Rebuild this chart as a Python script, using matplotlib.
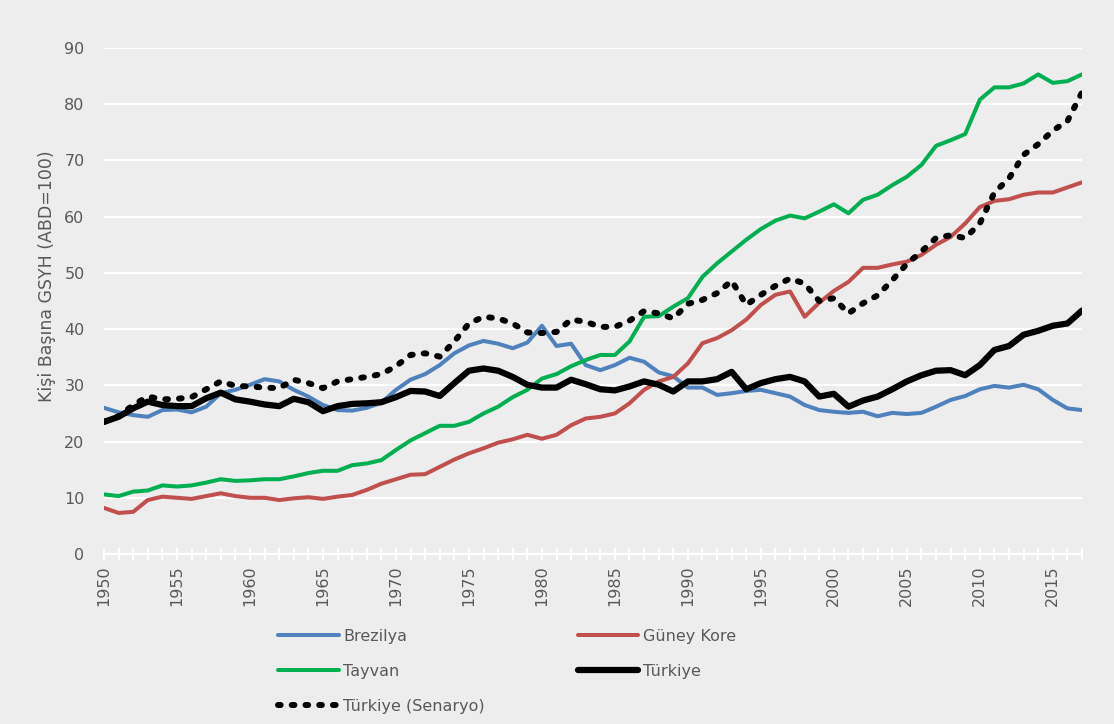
import matplotlib
matplotlib.use("Agg")
import matplotlib.pyplot as plt
import numpy as np
from matplotlib.lines import Line2D

years = list(range(1950, 2018))

brezilya = [26.0, 25.2, 24.7, 24.4, 25.6, 25.7, 25.2, 26.2, 28.6, 29.2,
            30.1, 31.1, 30.7, 29.2, 28.0, 26.5, 25.6, 25.5, 26.0, 26.9,
            29.2, 31.0, 32.0, 33.6, 35.7, 37.1, 37.9, 37.4, 36.6, 37.6,
            40.6, 37.0, 37.4, 33.6, 32.7, 33.6, 34.9, 34.2, 32.3, 31.6,
            29.6, 29.6, 28.3, 28.6, 29.0, 29.2, 28.6, 28.0, 26.5, 25.6,
            25.3, 25.1, 25.3, 24.5, 25.1, 24.9, 25.1, 26.2, 27.4, 28.1,
            29.3, 29.9, 29.6, 30.1, 29.3, 27.4, 25.9, 25.6]

guney_kore = [8.2, 7.3, 7.5, 9.6, 10.2, 10.0, 9.8, 10.3, 10.8, 10.3,
              10.0, 10.0, 9.6, 9.9, 10.1, 9.8, 10.2, 10.5, 11.4, 12.5,
              13.3, 14.1, 14.2, 15.5, 16.8, 17.9, 18.8, 19.8, 20.4, 21.2,
              20.5, 21.2, 22.9, 24.1, 24.4, 25.0, 26.8, 29.2, 30.7, 31.5,
              33.9, 37.5, 38.4, 39.8, 41.7, 44.3, 46.1, 46.7, 42.2, 44.7,
              46.8, 48.4, 50.9, 50.9, 51.5, 52.0, 53.2, 55.0, 56.4, 58.8,
              61.7, 62.8, 63.1, 63.9, 64.3, 64.3, 65.2, 66.1]

tayvan = [10.6, 10.3, 11.1, 11.3, 12.2, 12.0, 12.2, 12.7, 13.3, 13.0,
          13.1, 13.3, 13.3, 13.8, 14.4, 14.8, 14.8, 15.8, 16.1, 16.7,
          18.5, 20.2, 21.5, 22.8, 22.8, 23.5, 25.0, 26.2, 27.9, 29.2,
          31.2, 32.0, 33.4, 34.5, 35.4, 35.4, 37.8, 42.2, 42.3, 44.0,
          45.5, 49.3, 51.7, 53.8, 55.9, 57.8, 59.3, 60.2, 59.7, 60.9,
          62.2, 60.6, 63.0, 63.9, 65.6, 67.1, 69.2, 72.6, 73.6, 74.7,
          80.8, 83.0, 83.0, 83.7, 85.3, 83.8, 84.1, 85.3]

turkiye = [23.5, 24.4, 25.9, 27.1, 26.5, 26.3, 26.3, 27.7, 28.7, 27.5,
           27.1, 26.6, 26.3, 27.6, 27.0, 25.4, 26.3, 26.7, 26.8, 27.0,
           27.9, 29.0, 28.9, 28.1, 30.4, 32.6, 33.0, 32.6, 31.5, 30.1,
           29.6, 29.6, 31.0, 30.2, 29.3, 29.1, 29.8, 30.7, 30.1, 28.9,
           30.7, 30.7, 31.1, 32.4, 29.3, 30.4, 31.1, 31.5, 30.7, 28.0,
           28.5, 26.2, 27.3, 28.0, 29.3, 30.7, 31.8, 32.6, 32.7, 31.8,
           33.6, 36.3, 37.0, 39.0, 39.7, 40.6, 41.0, 43.3]

turkiye_senaryo = [23.5, 24.5, 26.5, 28.0, 27.5, 27.6, 27.9, 29.3, 30.7, 29.9,
                   29.8, 29.6, 29.5, 31.0, 30.4, 29.5, 30.7, 31.1, 31.5, 32.0,
                   33.4, 35.4, 35.7, 35.1, 37.8, 41.0, 42.2, 41.9, 41.0, 39.4,
                   39.3, 39.5, 41.7, 41.3, 40.4, 40.4, 41.5, 43.2, 42.8, 41.9,
                   44.5, 45.2, 46.4, 48.6, 44.3, 46.1, 47.7, 49.0, 48.1, 45.0,
                   45.5, 42.8, 44.6, 46.0, 48.7, 51.6, 53.8, 56.2, 56.7, 56.2,
                   58.8, 64.3, 66.8, 71.0, 72.9, 75.3, 77.0, 82.1]

labels = ["Brezilya", "Güney Kore", "Tayvan", "Türkiye", "Türkiye (Senaryo)"]
y_ticks = list(range(0, 100, 10))
y_label = "Kişi Başına GSYH (ABD=100)"

BG = "#EDEDED"
TXT = "#595959"

plt.rcParams['font.family'] = ['DejaVu Sans']

fig = plt.figure(figsize=(11.14, 7.24), dpi=100, facecolor=BG)
ax = fig.add_axes([104/1114, 1 - 554/724, (1082 - 104)/1114, (554 - 48)/724])
ax.set_facecolor(BG)

l1, = ax.plot(years, brezilya, color="#4F81BD", lw=2.9, solid_capstyle='round', solid_joinstyle='round', zorder=3)
l2, = ax.plot(years, guney_kore, color="#C0504D", lw=2.9, solid_capstyle='round', solid_joinstyle='round', zorder=3)
l3, = ax.plot(years, tayvan, color="#00B050", lw=2.9, solid_capstyle='round', solid_joinstyle='round', zorder=3)
l4, = ax.plot(years, turkiye, color="black", lw=4.5, solid_capstyle='round', solid_joinstyle='round', zorder=4)
l5, = ax.plot(years, turkiye_senaryo, color="black", lw=4.3, dashes=(0.45, 1.85),
              dash_capstyle='round', zorder=5)

ax.set_xlim(years[0], years[-1])
ax.set_ylim(0, 90)
ax.set_yticks(y_ticks)
ax.grid(axis='y', color='white', lw=1.6, zorder=1)
ax.set_axisbelow(True)
for s in ['left', 'right', 'top']:
    ax.spines[s].set_visible(False)
ax.spines['bottom'].set_color('white')
ax.spines['bottom'].set_linewidth(1.6)
ax.spines['bottom'].set_zorder(2)

ax.set_xticks(years)
ax.set_xticklabels([str(y) if y % 5 == 0 else "" for y in years], rotation=90,
                   fontsize=11.5, color=TXT)
ax.tick_params(axis='x', direction='inout', length=8, width=1.3, color='white', pad=4)
ax.tick_params(axis='y', length=0, pad=14, labelsize=11.5, labelcolor=TXT)
ax.set_ylabel(y_label, fontsize=12.5, color=TXT)
ax.yaxis.set_label_coords(-0.049, 0.55)

handles = [l1, l3, l5, l2, l4]
hl = [labels[0], labels[2], labels[4], labels[1], labels[3]]
leg = fig.legend(handles, hl, ncol=2, loc='upper left',
                 bbox_to_anchor=(278/1114, 1 - 629/724), frameon=False,
                 fontsize=11.5, labelcolor=TXT, handlelength=3.8,
                 handletextpad=0.3, columnspacing=5.8, labelspacing=1.25,
                 borderpad=0, borderaxespad=0)

fig.savefig("out.png", dpi=100, facecolor=BG)
